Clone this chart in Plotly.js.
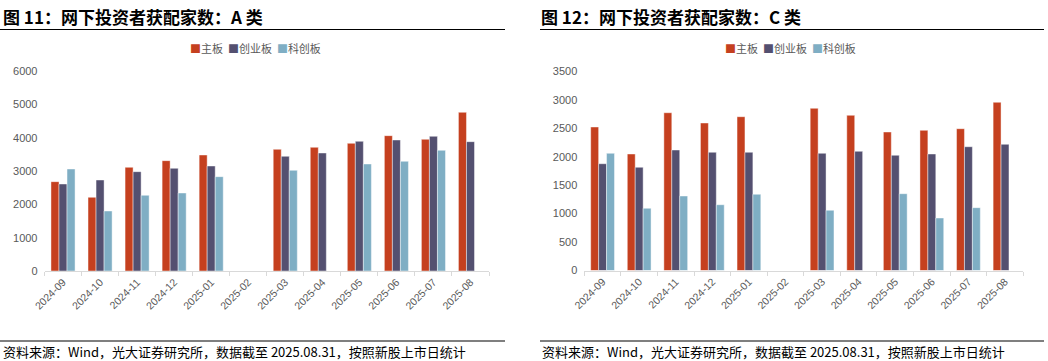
<!DOCTYPE html>
<html>
<head>
<meta charset="utf-8">
<script src="https://cdn.plot.ly/plotly-3.0.1.min.js"></script>
<style>
html,body{margin:0;padding:0;background:#fff;}
#chart{width:1048px;height:361px;}
</style>
</head>
<body>
<div id="chart"></div>
<script>
// ---- data ----
const months = ["2024-09","2024-10","2024-11","2024-12","2025-01","2025-02","2025-03","2025-04","2025-05","2025-06","2025-07","2025-08"];
const seriesNames = ["主板","创业板","科创板"];
const seriesColors = ["#C5401F","#545070","#7FAEC4"];

// 图11 A类
const aMain  = [2680, 2210, 3110, 3310, 3480, null, 3650, 3710, 3830, 4060, 3950, 4760];
const aChiNext = [2610, 2730, 2980, 3080, 3150, null, 3440, 3540, 3890, 3930, 4040, 3880];
const aStar  = [3060, 1800, 2270, 2340, 2830, null, 3020, null, 3210, 3290, 3620, null];

// 图12 C类
const cMain  = [2524, 2049, 2775, 2594, 2705, null, 2852, 2729, 2436, 2465, 2494, 2958];
const cChiNext = [1878, 1815, 2119, 2079, 2079, null, 2061, 2096, 2026, 2049, 2177, 2219];
const cStar  = [2061, 1094, 1310, 1157, 1340, null, 1059, null, 1351, 923, 1105, null];

const title1 = "图 11：网下投资者获配家数：A 类";
const title2 = "图 12：网下投资者获配家数：C 类";
const sourceText = "资料来源：Wind，光大证券研究所，数据截至 2025.08.31，按照新股上市日统计";

// ---- build ----
const W = 1048, H = 361;
const px = v => v / W;
const py = v => 1 - v / H;

const aData = [aMain, aChiNext, aStar];
const cData = [cMain, cChiNext, cStar];
const traces = [];
aData.forEach((vals, i) => traces.push({
  type: "bar", x: months, y: vals, name: seriesNames[i], xaxis: "x", yaxis: "y",
  marker: {color: seriesColors[i], line: {color: "rgba(255,255,255,0.55)", width: 0.8}},
  showlegend: false, hoverinfo: "x+y+name"
}));
cData.forEach((vals, i) => traces.push({
  type: "bar", x: months, y: vals, name: seriesNames[i], xaxis: "x2", yaxis: "y2",
  marker: {color: seriesColors[i], line: {color: "rgba(255,255,255,0.55)", width: 0.8}},
  showlegend: false, hoverinfo: "x+y+name"
}));

const gray = "#595959";
const tickFont = {family: "Liberation Sans, Arial, sans-serif", size: 10.5, color: gray};
const xCommon = {
  type: "category", tickson: "boundaries", ticks: "outside", ticklen: 4,
  tickcolor: "#D9D9D9", showline: true, linecolor: "#D9D9D9", linewidth: 1,
  tickangle: -45, tickfont: tickFont, showgrid: false, zeroline: false, fixedrange: true
};
const yCommon = {
  showgrid: false, zeroline: false, showline: false, ticks: "",
  tickfont: {family: "Liberation Sans, Arial, sans-serif", size: 11, color: gray},
  ticklabelstandoff: 6, fixedrange: true
};

const legendText = seriesNames.map((n, i) =>
  `<span style="color:${seriesColors[i]}">■</span>${n}`).join("  ");

const cjk = "Noto Sans CJK SC, sans-serif";
const annotations = [
  {text: "<b>" + title1 + "</b>", x: px(1), y: py(16.5), xanchor: "left", yanchor: "middle",
   font: {family: cjk, size: 17, color: "#000"}},
  {text: "<b>" + title2 + "</b>", x: px(539), y: py(16.5), xanchor: "left", yanchor: "middle",
   font: {family: cjk, size: 17, color: "#000"}},
  {text: legendText, x: px(255), y: py(48), xanchor: "center", yanchor: "middle",
   font: {family: cjk, size: 11, color: gray}},
  {text: legendText, x: px(790), y: py(48), xanchor: "center", yanchor: "middle",
   font: {family: cjk, size: 11, color: gray}},
  {text: sourceText, x: px(1), y: py(351), xanchor: "left", yanchor: "middle",
   font: {family: cjk, size: 13, color: "#000"}},
  {text: sourceText, x: px(540), y: py(351), xanchor: "left", yanchor: "middle",
   font: {family: cjk, size: 13, color: "#000"}}
].map(a => Object.assign({xref: "paper", yref: "paper", showarrow: false}, a));

const lineShape = (x0, x1, y) => ({type: "line", xref: "paper", yref: "paper",
  x0: px(x0), x1: px(x1), y0: py(y), y1: py(y), line: {color: "#000", width: 1.2}});
const shapes = [
  lineShape(0, 505, 29.5), lineShape(540, 1044, 29.5),
  lineShape(0, 505, 341), lineShape(540, 1044, 341)
];

const layout = {
  width: W, height: H,
  margin: {l: 0, r: 0, t: 0, b: 0, pad: 0},
  paper_bgcolor: "#fff", plot_bgcolor: "#fff",
  barmode: "group", bargap: 0.35, bargroupgap: 0,
  showlegend: false,
  xaxis: Object.assign({}, xCommon, {domain: [px(44.5), px(489)], anchor: "y"}),
  yaxis: Object.assign({}, yCommon, {domain: [py(271), py(71)], range: [0, 6000], dtick: 1000, anchor: "x"}),
  xaxis2: Object.assign({}, xCommon, {domain: [px(584.3), px(1023.3)], anchor: "y2"}),
  yaxis2: Object.assign({}, yCommon, {domain: [py(270.5), py(71.5)], range: [0, 3500], dtick: 500, anchor: "x2"}),
  annotations: annotations,
  shapes: shapes
};

Plotly.newPlot("chart", traces, layout, {displayModeBar: false, staticPlot: true});
</script>
</body>
</html>
